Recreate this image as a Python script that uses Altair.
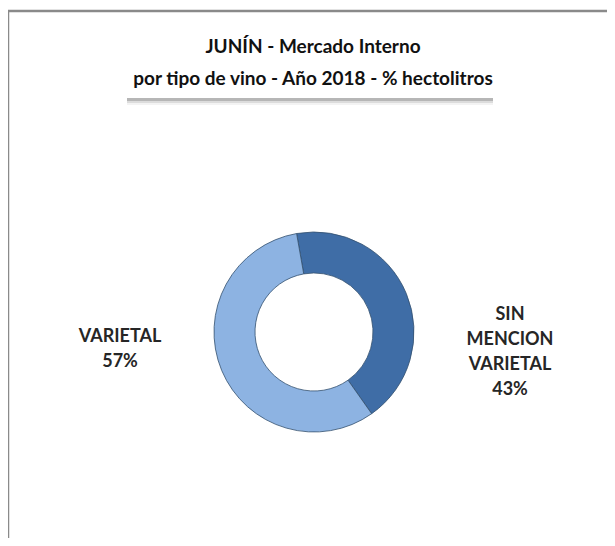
import altair as alt
import pandas as pd

# ---- data ----
categories = ["SIN MENCION VARIETAL", "VARIETAL"]
values = [43, 57]
label_lines = ["SIN\nMENCION\nVARIETAL", "VARIETAL"]
slice_colors = ["#3F6DA6", "#8DB3E2"]
title_lines = ["JUNÍN - Mercado Interno", "por tipo de vino - Año 2018 - % hectolitros"]

df = pd.DataFrame({
    "cat": categories,
    "val": values,
    "order": list(range(len(categories))),
    "label": [f"{l}\n{v}%" for l, v in zip(label_lines, values)],
})

W, H = 599, 530
CX, CY = 306, 324
START = -0.175  # radians, slightly left of 12 o'clock
TWO_PI = 6.283185307

base = alt.Chart(df)
one = pd.DataFrame({"a": [0]})

frame_top = alt.Chart(one).mark_rule(color="#8a8a8a", strokeWidth=2.5).encode(
    x=alt.value(0), x2=alt.value(W), y=alt.value(3))
frame_left = alt.Chart(one).mark_rule(color="#8a8a8a", strokeWidth=2.5).encode(
    x=alt.value(0), y=alt.value(3), y2=alt.value(H))

shadow_layers = []
for op, off in [(0.08, 7), (0.15, 5), (0.3, 3)]:
    shadow_layers.append(
        alt.Chart(one).mark_rect(color="#606060", opacity=op).encode(
            x=alt.value(119), x2=alt.value(485),
            y=alt.value(80), y2=alt.value(90 + off))
    )
title_box = alt.Chart(one).mark_rect(color="white").encode(
    x=alt.value(117), x2=alt.value(487), y=alt.value(17), y2=alt.value(90))

title_text = alt.Chart(pd.DataFrame({"t": ["\n".join(title_lines)]})).mark_text(
    font="Lato", fontWeight="bold", fontSize=19, color="#111111",
    align="center", baseline="alphabetic", lineBreak="\n", lineHeight=32,
).encode(x=alt.value(305), y=alt.value(45), text="t:N")

arcs = base.mark_arc(
    innerRadius=59, outerRadius=100, stroke="#34506e", strokeWidth=0.8
).encode(
    theta=alt.Theta("val:Q", stack=True, scale=alt.Scale(range=[START, START + TWO_PI])),
    order=alt.Order("order:O"),
    color=alt.Color("cat:N", scale=alt.Scale(domain=categories, range=slice_colors), legend=None),
    x=alt.value(CX), y=alt.value(CY),
)

text_style = dict(font="Lato", fontWeight="bold", fontSize=18, color="#262626",
                  align="center", baseline="middle", lineBreak="\n", lineHeight=25)

lab_right = base.transform_filter(alt.datum.cat == categories[0]).mark_text(**text_style).encode(
    x=alt.value(502), y=alt.value(307), text="label:N")

lab_left = base.transform_filter(alt.datum.cat == categories[1]).mark_text(**text_style).encode(
    x=alt.value(112), y=alt.value(329), text="label:N")

chart = alt.layer(
    frame_top, frame_left, *shadow_layers, title_box, title_text, arcs, lab_right, lab_left
).properties(
    width=W, height=H, autosize=alt.AutoSizeParams(type="none"), padding=0, background="white"
).configure_view(stroke=None)

chart.save("out.html", embed_options={"renderer": "svg", "actions": False})
